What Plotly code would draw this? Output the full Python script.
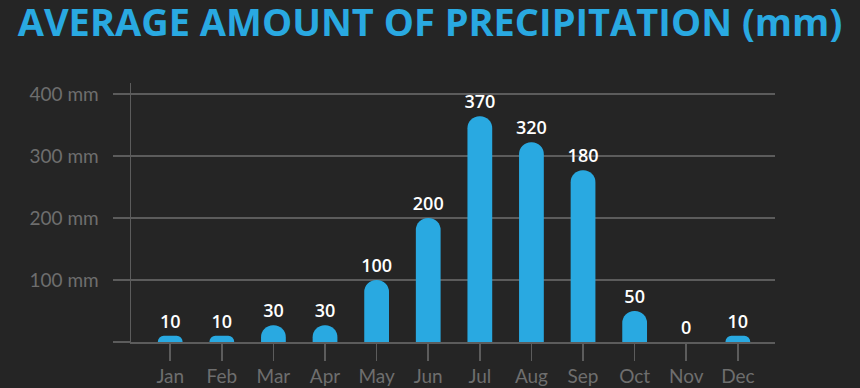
import plotly.graph_objects as go

months = ["Jan", "Feb", "Mar", "Apr", "May", "Jun", "Jul", "Aug", "Sep", "Oct", "Nov", "Dec"]
bar_heights = [10, 10, 27, 27, 100, 200, 364, 322, 277, 50, 0, 10]
labels = ["10", "10", "30", "30", "100", "200", "370", "320", "180", "50", "0", "10"]
y_ticks = [0, 100, 200, 300, 400]
y_tick_text = ["", "100 mm", "200 mm", "300 mm", "400 mm"]

BG = "#252525"
BLUE = "#29a9e1"
GRID = "#5c5c5c"
TICKC = "#6e6e6e"

fig = go.Figure(go.Bar(
    x=list(range(len(months))), y=bar_heights,
    text=labels, textposition="outside", cliponaxis=False,
    constraintext="none",
    textfont=dict(family="Open Sans", size=18, weight=600, color="#ffffff"),
    marker=dict(color=BLUE, line=dict(width=0)),
    width=0.48, hoverinfo="skip",
))

fig.update_layout(
    width=860, height=388,
    paper_bgcolor=BG, plot_bgcolor=BG,
    margin=dict(l=131, r=85, t=83, b=46),
    barcornerradius="50%",
    showlegend=False,
    title=dict(text="<b>AVERAGE AMOUNT OF PRECIPITATION (mm)</b>",
               font=dict(family="Open Sans", size=38, color=BLUE),
               x=0.5, xanchor="center", xref="container", y=0.942, yanchor="middle", yref="container"),
    xaxis=dict(
        range=[-0.76, 11.72], tickmode="array",
        tickvals=list(range(len(months))), ticktext=months,
        showgrid=False, zeroline=False, automargin=False,
        showline=True, linecolor=GRID, linewidth=1.5,
        ticks="outside", ticklen=17, tickcolor=GRID, tickwidth=1.5,
        tickfont=dict(family="Lato", size=19, color=TICKC),
    ),
    yaxis=dict(
        range=[0, 417.7], tickmode="array", tickvals=y_ticks, ticktext=y_tick_text,
        showgrid=True, gridcolor=GRID, gridwidth=1.5, zeroline=False, automargin=False,
        showline=True, linecolor=GRID, linewidth=1.5,
        ticks="outside", ticklen=17, tickcolor=GRID, tickwidth=1.5,
        ticklabelstandoff=10,
        tickfont=dict(family="Lato", size=19, color=TICKC),
    ),
)

fig.write_html("out.html", config={"displayModeBar": False, "staticPlot": True},
               post_script="document.body.style.margin='0';document.body.style.overflow='hidden';")
